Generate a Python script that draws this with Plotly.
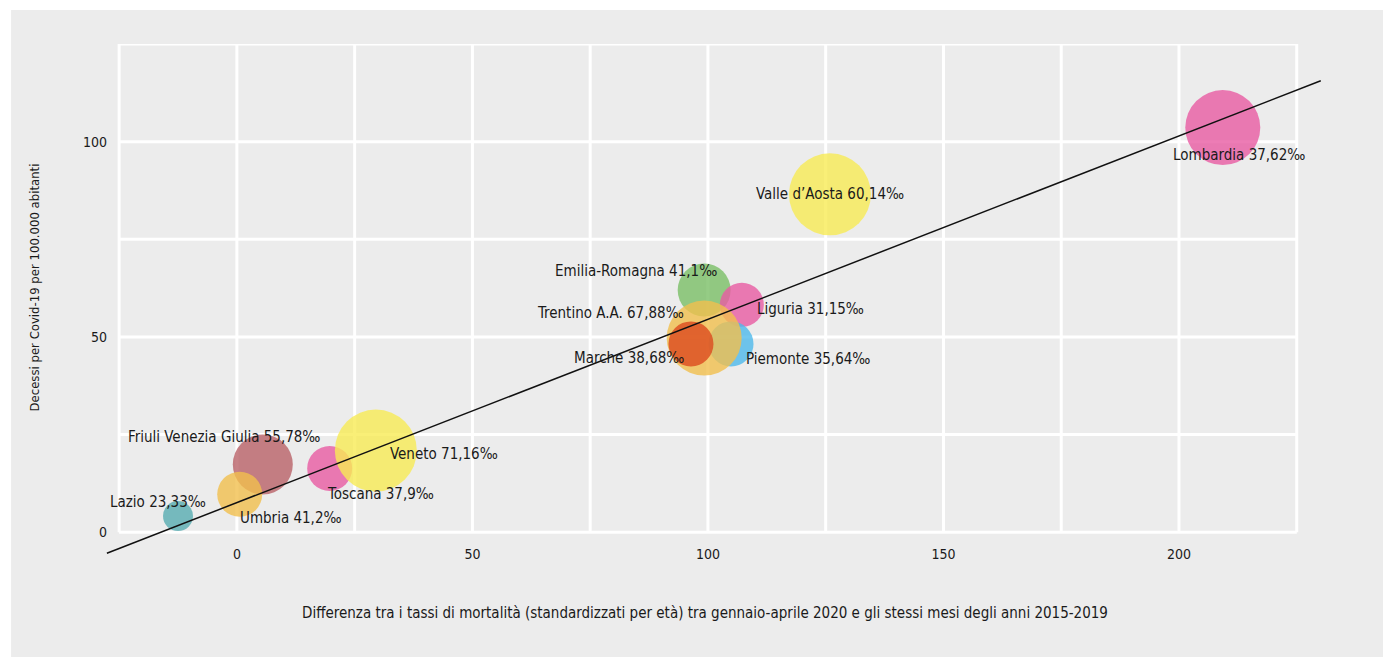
import plotly.graph_objects as go

# ---- data ----
regions = ["Lazio", "Friuli Venezia Giulia", "Umbria", "Toscana", "Veneto",
           "Emilia-Romagna", "Liguria", "Piemonte", "Trentino A.A.", "Marche",
           "Valle d’Aosta", "Lombardia"]
rates = ["23,33", "55,78", "41,2", "37,9", "71,16",
         "41,1", "31,15", "35,64", "67,88", "38,68",
         "60,14", "37,62"]
x_diff = [-12.5, 5.5, 0.6, 19.7, 29.5, 99.2, 107.2, 104.9, 99.2, 96.4, 125.9, 209.3]
y_deaths = [4.1, 17.3, 9.7, 16.3, 20.9, 62.0, 58.2, 48.2, 49.7, 48.2, 86.5, 103.6]
bubble_size = [30, 60, 45, 45, 82, 53, 44, 45, 75, 45, 82, 75]

trend_x = [-27.6, 230.1]
trend_y = [-5.4, 115.6]

x_ticks = [0, 50, 100, 150, 200]
y_ticks = [0, 50, 100]
x_grid = [-25, 0, 25, 50, 75, 100, 125, 150, 175, 200, 225]
y_grid = [0, 25, 50, 75, 100, 125]

x_title = "Differenza tra i tassi di mortalità (standardizzati per età) tra gennaio-aprile 2020 e gli stessi mesi degli anni 2015-2019"
y_title = "Decessi per Covid-19 per 100.000 abitanti"

# ---- styling ----
colors = ["#57acb2", "#b96168", "#f1bf4e", "#e95ba3", "#f7eb55",
          "#7abf67", "#e95ba3", "#4eb9eb", "#f1bf4e", "#dc4a1e",
          "#f7eb55", "#e95ba3"]
# (anchor, xshift, yshift) for each label
label_pos = [("center", -20, 14), ("center", -39, 28), ("left", -2, -24),
             ("left", -5, -26), ("left", 12, -3), ("right", 15, 19),
             ("left", 13, -4), ("left", 13, -15), ("right", -18, 25),
             ("right", -5, -14), ("center", 0, 0), ("center", 16, -27)]

FONT = "DejaVu Sans Condensed, Liberation Sans Narrow, sans-serif"
TXT = "#1a1a1a"
BG = "#ececec"

fig = go.Figure()

fig.add_trace(go.Scatter(
    x=x_diff, y=y_deaths, mode="markers",
    marker=dict(size=bubble_size, color=colors, opacity=0.8, line=dict(width=0)),
    hovertext=regions, hoverinfo="text", showlegend=False,
))

fig.add_trace(go.Scatter(
    x=trend_x, y=trend_y, mode="lines",
    line=dict(color="#111111", width=1.5), showlegend=False, hoverinfo="skip",
))

shapes = [dict(type="rect", xref="paper", yref="paper", x0=-0.077, x1=1.2,
               y0=-0.4, y1=1.0667, fillcolor=BG, line=dict(width=0), layer="below")]
for gx in x_grid:
    shapes.append(dict(type="line", xref="x", yref="y", x0=gx, x1=gx,
                       y0=y_grid[0], y1=y_grid[-1],
                       line=dict(color="white", width=3), layer="below"))
for gy in y_grid:
    shapes.append(dict(type="line", xref="x", yref="y", x0=x_grid[0], x1=x_grid[-1],
                       y0=gy, y1=gy,
                       line=dict(color="white", width=3), layer="below"))

annotations = []
for name, rate, xv, yv, (anc, xs, ys) in zip(regions, rates, x_diff, y_deaths, label_pos):
    annotations.append(dict(x=xv, y=yv, xref="x", yref="y", text=f"{name} {rate}‰",
                            showarrow=False, xanchor=anc, yanchor="middle",
                            xshift=xs, yshift=ys,
                            font=dict(family=FONT, size=15, color=TXT)))
annotations.append(dict(x=0.4918, y=-0.1157, xref="paper", yref="paper", text=x_title,
                        showarrow=False, xanchor="center", yanchor="middle",
                        font=dict(family=FONT, size=15, color=TXT)))
annotations.append(dict(x=-0.0574, y=0.5225, xref="paper", yref="paper", text=y_title,
                        showarrow=False, textangle=-90, xanchor="center", yanchor="middle",
                        font=dict(family=FONT, size=13, color=TXT)))

fig.update_layout(
    width=1391, height=657,
    margin=dict(l=97, r=74, t=36, b=111),
    paper_bgcolor="white", plot_bgcolor="rgba(0,0,0,0)",
    shapes=shapes, annotations=annotations,
    font=dict(family=FONT, color=TXT),
    xaxis=dict(range=[-28, 231], tickvals=x_ticks, showgrid=False, zeroline=False,
               showline=False, ticks="", tickfont=dict(size=14, color=TXT),
               ticklabelstandoff=-10),
    yaxis=dict(range=[-5.6, 125], tickvals=y_ticks, showgrid=False, zeroline=False,
               showline=False, ticks="", tickfont=dict(size=14, color=TXT),
               ticklabelstandoff=-3),
)

fig.write_html("out.html")
